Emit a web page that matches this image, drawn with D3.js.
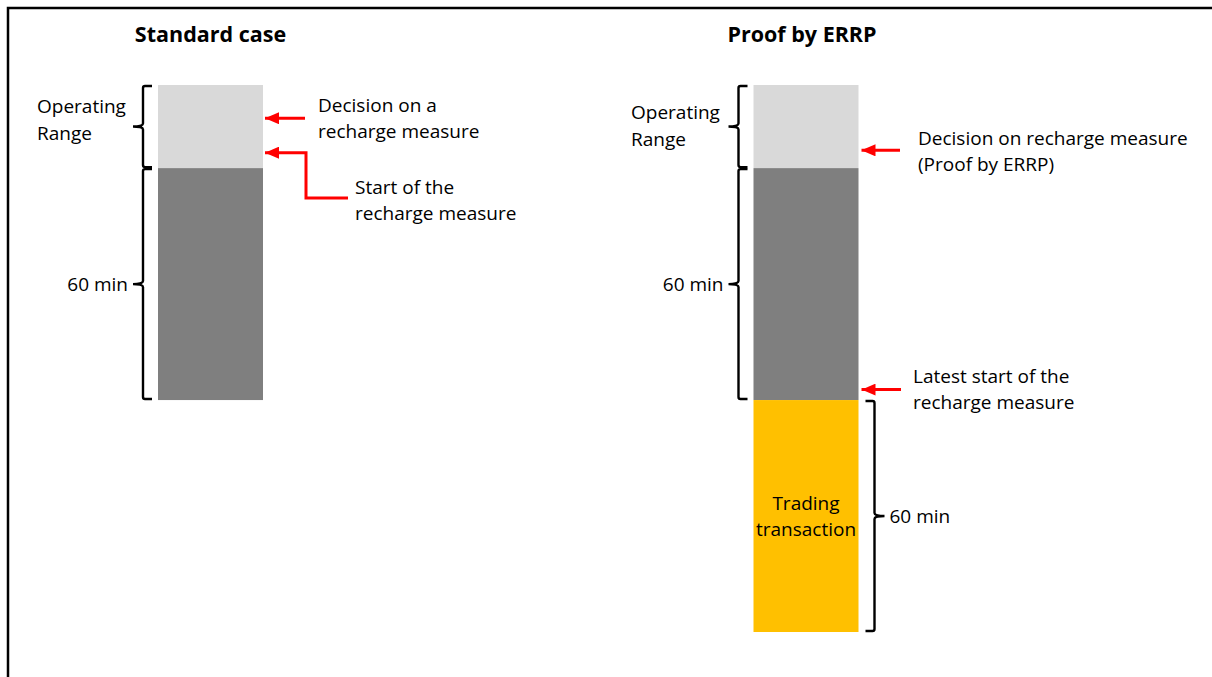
<!DOCTYPE html>
<html><head><meta charset="utf-8">
<script src="https://cdn.jsdelivr.net/npm/d3@7"></script>
<style>body{margin:0;background:#fff}svg{display:block}text{font-family:"Open Sans",sans-serif;fill:#000}</style>
</head><body><svg id="c" width="1212" height="677"></svg>
<script>
const cases = ["Standard case", "Proof by ERRP"];
const segStandard = [{name:"Operating Range", value:21.5}, {name:"60 min", value:60}];
const segERRP = [{name:"Operating Range", value:21.5}, {name:"60 min", value:60}, {name:"Trading transaction", value:60}];
const segColors = ["#d9d9d9", "#7f7f7f", "#ffc000"];
const braceLabels = [["Operating","Range"], ["60 min"], ["60 min"]];
const notesStandard = [["Decision on a","recharge measure"], ["Start of the","recharge measure"]];
const notesERRP = [["Decision on recharge measure","(Proof by ERRP)"], ["Latest start of the","recharge measure"]];
const noteTimes = [[8.6, 17.5], [16.9, 78.8]]; // minutes from top where arrows point

const FS = 19, TFS = 21.5;
const svg = d3.select("#c");
svg.append("path").attr("d","M8,677V8H1212").attr("fill","none").attr("stroke","#000").attr("stroke-width",2.5);

const x = d3.scalePoint().domain(cases).range([210.5, 806]);
const y = d3.scaleLinear().domain([0, 141.5]).range([85, 632]);
const bw = 105;

function stack(segs){ let c=0; return segs.map((s,i)=>{const o={...s,y0:c,y1:c+s.value,i}; c+=s.value; return o;}); }
const data = [stack(segStandard), stack(segERRP)];

cases.forEach((cs,ci)=>{
  const g = svg.append("g");
  const cx = x(cs);
  g.append("text").attr("x", cx + (ci===0?0:-4)).attr("y", 34).attr("dy","0.35em")
    .attr("text-anchor","middle").attr("font-weight","bold").attr("font-size",TFS).text(cs);
  g.selectAll("rect").data(data[ci]).join("rect")
    .attr("x", cx-bw/2).attr("width", bw)
    .attr("y", d=>y(d.y0)).attr("height", d=>y(d.y1)-y(d.y0))
    .attr("fill", d=>segColors[d.i]);
  data[ci].forEach(d=>{
    const top=y(d.y0), bot=y(d.y1), mid=(top+bot)/2;
    const left = d.i<2;
    const s = left?-1:1;
    const xe = left? cx-bw/2-6 : cx+bw/2+7;  // hook ends
    const xv = xe + s*9;  // vertical line
    const xt = xv + s*10; // tip
    const p = `M${xe},${top+1} L${xv+ -s*2},${top+1} Q${xv},${top+1} ${xv},${top+3} L${xv},${mid-3} Q${xv},${mid} ${xt},${mid} Q${xv},${mid} ${xv},${mid+3} L${xv},${bot-3} Q${xv},${bot-1} ${xv- s*2},${bot-1} L${xe},${bot-1}`;
    g.append("path").attr("d",p).attr("fill","none").attr("stroke","#000").attr("stroke-width",2.4);
    const lines = braceLabels[d.i];
    if (d.i===2){
      const t = g.append("text").attr("x", cx).attr("y", mid-13).attr("text-anchor","middle").attr("font-size",FS);
      ["Trading","transaction"].forEach((l,k)=>t.append("tspan").attr("x",cx).attr("dy", k===0?"0.35em":26).text(l));
      g.append("text").attr("x", xt+5).attr("y", mid).attr("dy","0.35em").attr("font-size",FS).text(lines[0]);
    } else if (lines.length===2){
      const t = g.append("text").attr("y", mid-20+ (ci===1?6:0)).attr("font-size",FS);
      const lx = ci===0?37:631;
      lines.forEach((l,k)=>t.append("tspan").attr("x",lx).attr("dy", k===0?"0.35em":27).text(l));
    } else {
      g.append("text").attr("x", xt-5).attr("y", mid).attr("dy","0.35em").attr("text-anchor","end").attr("font-size",FS).text(lines[0]);
    }
  });
});

// arrows
const defs = svg.append("defs");
defs.append("marker").attr("id","ah").attr("viewBox","0 0 14 12").attr("refX",14).attr("refY",6)
  .attr("markerUnits","userSpaceOnUse").attr("markerWidth",14).attr("markerHeight",12).attr("orient","auto-start-reverse")
  .append("path").attr("d","M0,0L14,6L0,12z").attr("fill","#ff0000");
function arrow(pts){
  svg.append("path").attr("d", d3.line()(pts)).attr("fill","none").attr("stroke","#ff0000")
    .attr("stroke-width",3).attr("marker-start","url(#ah)");
}
function note(lines, tx, ty){
  const t = svg.append("text").attr("y", ty).attr("font-size",FS);
  lines.forEach((l,k)=>t.append("tspan").attr("x",tx).attr("dy", k===0?"0.35em":26).text(l));
}
// Standard case
{
  const cx = x(cases[0]), rx = cx+bw/2+2;
  const a1 = y(noteTimes[0][0]), a2 = y(noteTimes[0][1]);
  arrow([[rx,a1],[305,a1]]);
  note(notesStandard[0], 318, 105);
  arrow([[rx,a2],[306,a2],[306,198],[348,198]]);
  note(notesStandard[1], 355, 187);
}
// ERRP
{
  const cx = x(cases[1]), rx = cx+bw/2+3;
  const a1 = y(noteTimes[1][0]), a2 = y(noteTimes[1][1]);
  arrow([[rx,a1],[900,a1]]);
  note(notesERRP[0], 918, 138);
  arrow([[rx,a2],[901,a2]]);
  note(notesERRP[1], 913, 376);
}
</script></body></html>
